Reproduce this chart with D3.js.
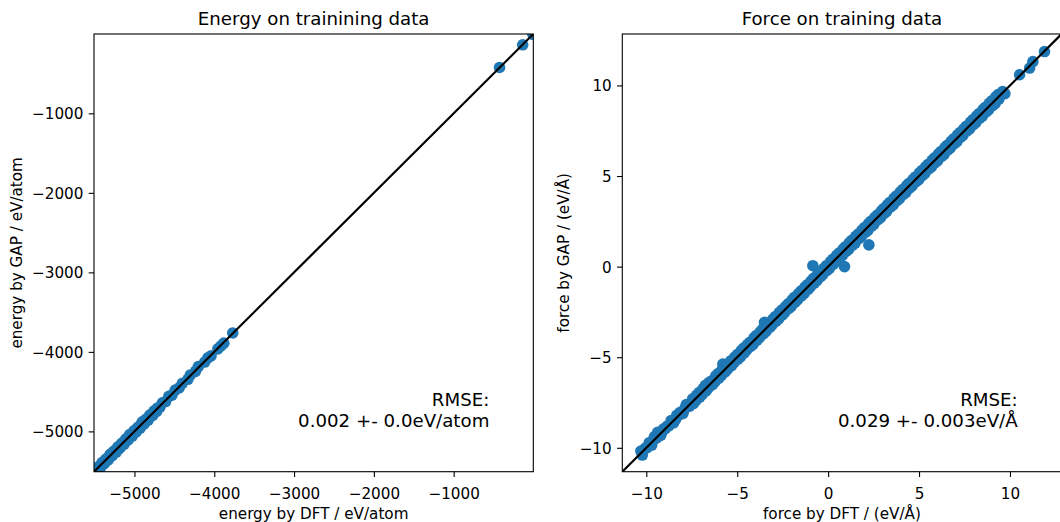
<!DOCTYPE html>
<html>
<head>
<meta charset="utf-8">
<script src="https://cdn.jsdelivr.net/npm/d3@7"></script>
<style>
  html, body { margin: 0; padding: 0; background: #fff; }
  svg { display: block; font-family: "DejaVu Sans", sans-serif; }
</style>
</head>
<body>
<svg id="chart" width="1060" height="522"></svg>
<script>
// ---------- data ----------
const energyTitle = "Energy on trainining data";
const forceTitle = "Force on training data";
const energyXLabel = "energy by DFT / eV/atom";
const energyYLabel = "energy by GAP / eV/atom";
const forceXLabel = "force by DFT / (eV/Å)";
const forceYLabel = "force by GAP / (eV/Å)";
const energyRMSE = ["RMSE:", "0.002 +- 0.0eV/atom"];
const forceRMSE = ["RMSE:", "0.029 +- 0.003eV/Å"];

const energyTicks = [-5000, -4000, -3000, -2000, -1000];
const forceTicks = [-10, -5, 0, 5, 10];
const energyLimits = [-5507, -2];
const forceLimits = [-11.32, 12.84];

const energyDFT = [
  -8, -135, -425,
  -3768, -3880, -3915, -3955, -4040, -4080, -4120, -4200, -4235, -4300,
  -4330, -4400, -4440, -4490, -4530, -4570, -4610, -4650, -4680, -4710,
  -4735, -4760, -4790, -4815, -4840, -4865, -4890, -4915, -4940, -4965,
  -4990, -5015, -5040, -5065, -5090, -5115, -5140, -5165, -5190, -5215,
  -5240, -5265, -5290, -5315, -5340, -5365, -5390, -5415, -5440, -5465,
  -5490, -5502, -5060, -4980, -4900, -5200, -5300, -5420,
  -4722, -4748, -4772, -4802, -4828, -4852, -4878, -4902, -4928, -4952,
  -4978, -5002, -5028, -5052, -5078, -5102, -5128, -5152, -5178, -5202,
  -5228, -5252, -5278, -5302, -5328, -5352, -5378, -5402, -5428, -5452,
  -5478
];
const energyGAP = [
  -6, -138, -423,
  -3762, -3890, -3925, -3962, -4050, -4075, -4128, -4185, -4245, -4290,
  -4345, -4395, -4452, -4480, -4545, -4560, -4625, -4640, -4695, -4705,
  -4745, -4752, -4805, -4808, -4855, -4858, -4905, -4908, -4955, -4958,
  -5005, -5008, -5055, -5058, -5105, -5108, -5155, -5158, -5205, -5208,
  -5255, -5258, -5305, -5308, -5355, -5358, -5405, -5408, -5455, -5458,
  -5500, -5494, -5040, -4996, -4880, -5222, -5285, -5440,
  -4750, -4740, -4800, -4790, -4860, -4845, -4905, -4890, -4960, -4945,
  -5006, -4990, -5060, -5045, -5106, -5090, -5160, -5145, -5206, -5190,
  -5260, -5245, -5306, -5290, -5360, -5345, -5406, -5390, -5460, -5445,
  -5506
];

const forceDFT = [
  -10.22, -10.30, -10.05, -9.84, -9.70, -9.55, -9.37, -9.20, -9.05, -8.85,
  -8.63, -8.50, -8.32, -8.15, -7.98, -7.80, -7.62, -7.45, -7.28, -7.10,
  -6.92, -6.75, -6.58, -6.40, -6.22, -6.05, -5.88, -5.79, -5.70, -5.52,
  -5.35, -5.18, -5.00, -4.82, -4.65, -4.48, -4.30, -4.12, -3.95, -3.78,
  -3.60, -3.50, -3.42, -3.25, -3.08, -2.90, -2.72, -2.55, -2.38, -2.20,
  -2.02, -1.85, -1.68, -1.50, -1.32, -1.15, -0.98, -0.84, -0.80, -0.62,
  -0.45, -0.28, -0.10, 0.08, 0.25, 0.42, 0.60, 0.78, 0.90, 0.95,
  1.12, 1.30, 1.48, 1.65, 1.82, 2.00, 2.18, 2.24, 2.35, 2.52,
  2.70, 2.88, 3.05, 3.22, 3.40, 3.58, 3.75, 3.92, 4.10, 4.28,
  4.45, 4.62, 4.80, 4.98, 5.15, 5.32, 5.50, 5.68, 5.85, 6.02,
  6.20, 6.38, 6.55, 6.72, 6.90, 7.08, 7.25, 7.42, 7.60, 7.78,
  7.95, 8.12, 8.30, 8.48, 8.65, 8.82, 9.00, 9.18, 9.35, 9.60,
  9.72, 10.53, 11.08, 11.26, 11.90,
  -10.15, -9.95, -9.62, -9.45, -9.28, -9.12, -8.95, -8.75, -8.57, -8.40,
  -8.23, -8.07, -7.89, -7.71, -7.53, -7.36, -7.19, -7.01, -6.83, -6.66,
  -6.49, -6.31, -6.13, -5.96, -5.61, -5.43, -5.26, -5.09, -4.91, -4.73,
  -4.56, -4.39, -4.21, -4.03, -3.86, -3.69, -3.51, -3.33, -3.16, -2.99,
  -2.81, -2.63, -2.46, -2.29, -2.11, -1.93, -1.76, -1.59, -1.41, -1.23,
  -1.06, -0.89, -0.71, -0.53, -0.36, -0.19, -0.01, 0.17, 0.34, 0.51,
  0.69, 0.87, 1.04, 1.21, 1.39, 1.57, 1.74, 1.91, 2.09, 2.27,
  2.44, 2.61, 2.79, 2.97, 3.14, 3.31, 3.49, 3.67, 3.84, 4.01,
  4.19, 4.37, 4.54, 4.71, 4.89, 5.07, 5.24, 5.41, 5.59, 5.77,
  5.94, 6.11, 6.29, 6.47, 6.64, 6.81, 6.99, 7.17, 7.34, 7.51,
  7.69, 7.87, 8.04, 8.21, 8.39, 8.57, 8.74, 8.91, 9.09, 9.27,
  9.45,
  -7.41, -7.24, -7.06, -6.88, -6.71, -6.54, -6.36, -6.18, -6.01, -5.84,
  -5.66, -5.48, -5.31, -5.14, -4.96, -4.78, -4.61, -4.44, -4.26, -4.08,
  -3.91, -3.74, -3.56, -3.38, -3.21, -3.04, -2.86, -2.68, -2.51, -2.34,
  -2.16, -1.98, -1.81, -1.64, -1.46, -1.28, -1.11, -0.94, -0.76, -0.58,
  -0.41, -0.24, -0.06, 0.12, 0.29, 0.46, 0.64, 0.82, 0.99, 1.16,
  1.34, 1.52, 1.69, 1.86, 2.04, 2.22, 2.39, 2.56, 2.74, 2.92,
  3.09, 3.26, 3.44, 3.62, 3.79, 3.96, 4.14, 4.32, 4.49, 4.66,
  4.84, 5.02, 5.19, 5.36, 5.54, 5.72, 5.89, 6.06, 6.24, 6.42,
  6.59, 6.76, 6.94, 7.12, 7.29, 7.46, 7.64, 7.82, 7.99, 8.16,
  8.34, 8.52, 8.69, 8.86, 9.04, 9.22, 9.39
];
const forceGAP = [
  -10.40, -10.18, -10.02, -9.72, -9.85, -9.38, -9.15, -9.30, -8.95, -8.80,
  -8.49, -8.62, -8.20, -8.05, -8.10, -7.62, -7.70, -7.30, -7.40, -6.95,
  -7.05, -6.55, -6.68, -6.30, -6.35, -5.90, -6.02, -5.38, -5.55, -5.65,
  -5.20, -5.30, -4.85, -4.98, -4.50, -4.60, -4.18, -4.28, -3.80, -3.92,
  -3.45, -3.08, -3.58, -3.10, -3.22, -2.75, -2.88, -2.40, -2.52, -2.05,
  -2.18, -1.70, -1.82, -1.35, -1.48, -1.00, -1.12, 0.05, -0.65, -0.78,
  -0.30, -0.42, 0.05, -0.08, 0.40, 0.26, 0.75, 0.62, 0.00, 1.10,
  0.95, 1.45, 1.30, 1.80, 1.65, 2.15, 2.00, 1.20, 2.50, 2.35,
  2.85, 2.70, 3.20, 3.05, 3.55, 3.40, 3.90, 3.75, 4.25, 4.10,
  4.60, 4.45, 4.95, 4.80, 5.30, 5.15, 5.65, 5.50, 6.00, 5.85,
  6.35, 6.20, 6.70, 6.55, 7.05, 6.90, 7.40, 7.25, 7.75, 7.60,
  8.10, 7.95, 8.45, 8.30, 8.80, 8.65, 9.15, 9.00, 9.50, 9.67,
  9.55, 10.59, 10.96, 11.32, 11.87,
  -10.13, -9.99, -9.57, -9.47, -9.34, -9.09, -8.95, -8.78, -8.53, -8.45,
  -8.21, -8.11, -7.84, -7.73, -7.59, -7.33, -7.19, -7.04, -6.79, -6.71,
  -6.47, -6.35, -6.08, -5.98, -5.67, -5.40, -5.26, -5.12, -4.87, -4.78,
  -4.54, -4.43, -4.16, -4.05, -3.92, -3.66, -3.51, -3.36, -3.12, -3.04,
  -2.79, -2.67, -2.41, -2.31, -2.17, -1.90, -1.76, -1.62, -1.37, -1.28,
  -1.04, -0.93, -0.66, -0.55, -0.42, -0.16, -0.01, 0.14, 0.38, 0.46,
  0.71, 0.83, 1.09, 1.19, 1.33, 1.60, 1.74, 1.88, 2.13, 2.22,
  2.46, 2.57, 2.84, 2.95, 3.08, 3.34, 3.49, 3.64, 3.88, 3.96,
  4.21, 4.33, 4.59, 4.69, 4.83, 5.10, 5.24, 5.38, 5.63, 5.72,
  5.96, 6.07, 6.34, 6.45, 6.58, 6.84, 6.99, 7.14, 7.38, 7.46,
  7.71, 7.83, 8.09, 8.19, 8.33, 8.60, 8.74, 8.88, 9.13, 9.22,
  9.47,
  -7.56, -7.10, -7.20, -6.74, -6.86, -6.39, -6.52, -6.03, -6.16, -5.70,
  -5.81, -5.34, -5.46, -5.00, -5.11, -4.63, -4.76, -4.30, -4.41, -3.93,
  -4.06, -3.60, -3.71, -3.23, -3.36, -2.90, -3.01, -2.53, -2.66, -2.20,
  -2.31, -1.83, -1.96, -1.50, -1.61, -1.13, -1.26, -0.80, -0.91, -0.43,
  -0.56, -0.10, -0.21, 0.27, 0.14, 0.61, 0.49, 0.97, 0.84, 1.31,
  1.19, 1.67, 1.54, 2.01, 1.89, 2.37, 2.24, 2.71, 2.59, 3.07,
  2.94, 3.41, 3.29, 3.77, 3.64, 4.11, 3.99, 4.47, 4.34, 4.81,
  4.69, 5.17, 5.04, 5.51, 5.39, 5.87, 5.74, 6.21, 6.09, 6.57,
  6.44, 6.91, 6.79, 7.27, 7.14, 7.61, 7.49, 7.97, 7.84, 8.31,
  8.19, 8.67, 8.54, 9.01, 8.89, 9.37, 9.24
];

// ---------- layout ----------
const svg = d3.select("#chart");
const panels = [
  {
    left: 94, right: 533.3, top: 34, bottom: 471.7,
    title: energyTitle, xLabel: energyXLabel, yLabel: energyYLabel,
    ticks: energyTicks, lim: energyLimits, xs: energyDFT, ys: energyGAP,
    rmse: energyRMSE, yLabelX: 22
  },
  {
    left: 622.3, right: 1061.6, top: 34, bottom: 471.7,
    title: forceTitle, xLabel: forceXLabel, yLabel: forceYLabel,
    ticks: forceTicks, lim: forceLimits, xs: forceDFT, ys: forceGAP,
    rmse: forceRMSE, yLabelX: 569
  }
];

const tickFont = 15.2, titleFont = 18.2;
const fmt = v => (v < 0 ? "\u2212" + Math.abs(v) : String(v));

panels.forEach((p, i) => {
  const x = d3.scaleLinear().domain(p.lim).range([p.left, p.right]);
  const y = d3.scaleLinear().domain(p.lim).range([p.bottom, p.top]);

  const clipId = "clip" + i;
  svg.append("clipPath").attr("id", clipId)
    .append("rect")
    .attr("x", p.left).attr("y", p.top)
    .attr("width", p.right - p.left).attr("height", p.bottom - p.top);

  const g = svg.append("g");
  const plot = g.append("g").attr("clip-path", `url(#${clipId})`);

  const pts = p.xs.map((v, k) => [v, p.ys[k]]);
  plot.selectAll("circle").data(pts).join("circle")
    .attr("cx", d => x(d[0]))
    .attr("cy", d => y(d[1]))
    .attr("r", 5.8)
    .attr("fill", "#1f77b4");

  plot.append("line")
    .attr("x1", x(p.lim[0])).attr("y1", y(p.lim[0]))
    .attr("x2", x(p.lim[1])).attr("y2", y(p.lim[1]))
    .attr("stroke", "#000").attr("stroke-width", 2.2);

  const xAxis = d3.axisBottom(x).tickValues(p.ticks).tickFormat(fmt)
    .tickSize(5.3).tickPadding(5.3).tickSizeOuter(0);
  const yAxis = d3.axisLeft(y).tickValues(p.ticks).tickFormat(fmt)
    .tickSize(5.3).tickPadding(5.3).tickSizeOuter(0);

  const gx = g.append("g").attr("transform", `translate(0,${p.bottom})`).call(xAxis);
  const gy = g.append("g").attr("transform", `translate(${p.left},0)`).call(yAxis);
  [gx, gy].forEach(a => {
    a.select(".domain").remove();
    a.selectAll("line").attr("stroke", "#000").attr("stroke-width", 1.1);
    a.selectAll("text").attr("fill", "#000")
      .style("font-size", tickFont + "px")
      .style("font-family", "DejaVu Sans, sans-serif");
  });
  gx.selectAll("text").attr("dy", null).attr("y", 27.3);
  gy.selectAll("text").attr("dy", "0.36em");

  g.append("rect")
    .attr("x", p.left).attr("y", p.top)
    .attr("width", p.right - p.left).attr("height", p.bottom - p.top)
    .attr("fill", "none").attr("stroke", "#000").attr("stroke-width", 1.1);

  g.append("text")
    .attr("x", (p.left + p.right) / 2).attr("y", 25)
    .attr("text-anchor", "middle")
    .style("font-size", titleFont + "px")
    .text(p.title);

  g.append("text")
    .attr("x", (p.left + p.right) / 2).attr("y", 519)
    .attr("text-anchor", "middle")
    .style("font-size", tickFont + "px")
    .text(p.xLabel);

  g.append("text")
    .attr("transform", `translate(${p.yLabelX},${(p.top + p.bottom) / 2}) rotate(-90)`)
    .attr("text-anchor", "middle")
    .style("font-size", tickFont + "px")
    .text(p.yLabel);

  const tx = p.left + 0.9 * (p.right - p.left);
  const t = g.append("text")
    .attr("text-anchor", "end")
    .style("font-size", titleFont + "px");
  t.append("tspan").attr("x", tx).attr("y", 406).text(p.rmse[0]);
  t.append("tspan").attr("x", tx).attr("y", 427).text(p.rmse[1]);
});
</script>
</body>
</html>
